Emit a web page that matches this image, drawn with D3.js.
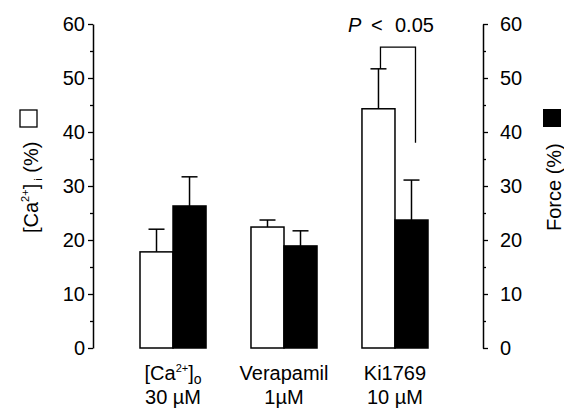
<!DOCTYPE html>
<html><head><meta charset="utf-8">
<script src="https://cdn.jsdelivr.net/npm/d3@7/dist/d3.min.js"></script>
<style>body{margin:0;background:#fff}svg{display:block}text{font-family:"Liberation Sans",Arial,Helvetica,sans-serif;fill:#000}</style>
</head><body><svg id="c" width="564" height="409"></svg>
<script>
const categories = ["Ca", "Verapamil", "Ki1769"];
const caValues = [17.8, 22.4, 44.3];
const caErrors = [4.2, 1.3, 7.4];
const forceValues = [26.3, 18.9, 23.7];
const forceErrors = [5.4, 2.8, 7.4];
const yTicks = [0, 10, 20, 30, 40, 50, 60];
const yMinor = [5, 15, 25, 35, 45, 55];
const sigParts = ["P", "<", "0.05"];
const bracketTop = 55.7;
const bracketRightEnd = 38;

const FS = "20px";
const svg = d3.select("#c");
const y = d3.scaleLinear().domain([0, 60]).range([348, 24]);
const x = d3.scaleBand().domain(categories).range([140, 428]).paddingInner(0.405).paddingOuter(0);
const sub = d3.scaleBand().domain(["ca", "force"]).range([0, x.bandwidth()]);

const leftX = 93, rightX = 483;

// left axis
const la = svg.append("g").attr("transform", `translate(${leftX},0)`)
  .call(d3.axisLeft(y).tickValues(yTicks).tickSize(5).tickPadding(3).tickSizeOuter(0));
la.append("g").call(d3.axisLeft(y).tickValues(yMinor).tickSize(3).tickFormat("").tickSizeOuter(0))
  .select(".domain").remove();
// right axis
const ra = svg.append("g").attr("transform", `translate(${rightX},0)`)
  .call(d3.axisRight(y).tickValues(yTicks).tickSize(5).tickPadding(12).tickSizeOuter(0));
ra.append("g").call(d3.axisRight(y).tickValues(yMinor).tickSize(3).tickFormat("").tickSizeOuter(0))
  .select(".domain").remove();
svg.selectAll(".domain").attr("stroke", "#000").attr("stroke-width", 1.5);
svg.selectAll(".tick line").attr("stroke", "#000").attr("stroke-width", 1.3);
svg.selectAll(".tick text").style("font-size", FS).attr("fill", "#000");

// bars
const data = categories.map((c, i) => ({c, ca: caValues[i], caE: caErrors[i], f: forceValues[i], fE: forceErrors[i]}));
const bw = sub.bandwidth();
const g = svg.append("g");
data.forEach(d => {
  const series = [
    {k: "ca", v: d.ca, e: d.caE, fill: "#fff"},
    {k: "force", v: d.f, e: d.fE, fill: "#000"}
  ];
  series.forEach(s => {
    const x0 = x(d.c) + sub(s.k);
    const cx = x0 + bw / 2;
    g.append("line").attr("x1", cx).attr("x2", cx).attr("y1", y(s.v)).attr("y2", y(s.v + s.e))
      .attr("stroke", "#000").attr("stroke-width", 1.5);
    g.append("line").attr("x1", cx - 8).attr("x2", cx + 8).attr("y1", y(s.v + s.e)).attr("y2", y(s.v + s.e))
      .attr("stroke", "#000").attr("stroke-width", 1.5);
    g.append("rect").attr("x", x0).attr("y", y(s.v)).attr("width", bw).attr("height", y(0) - y(s.v))
      .attr("fill", s.fill).attr("stroke", "#000").attr("stroke-width", 1.5);
  });
});

// significance bracket
const last = data[2];
const bx1 = x(last.c) + sub("ca") + bw / 2 + 2;
const bx2 = x(last.c) + sub("force") + bw / 2 + 4;
svg.append("path")
  .attr("d", `M${bx1},${y(last.ca + last.caE)}V${y(bracketTop)}H${bx2}V${y(bracketRightEnd)}`)
  .attr("fill", "none").attr("stroke", "#000").attr("stroke-width", 1.3);
const sig = svg.append("text").attr("y", 32).style("font-size", FS);
sig.append("tspan").attr("x", 348).style("font-style", "italic").text(sigParts[0]);
sig.append("tspan").attr("x", 371).text(sigParts[1]);
sig.append("tspan").attr("x", 395).text(sigParts[2]);

// category labels
const line1 = [
  t => { t.append("tspan").text("[Ca"); t.append("tspan").attr("dy", -8).style("font-size", "11px").text("2+");
         t.append("tspan").attr("dy", 8).text("]"); t.append("tspan").attr("dy", 4).style("font-size", "14px").text("o"); },
  t => t.text("Verapamil"),
  t => t.text("Ki1769")
];
const line2 = ["30 \u00b5M", "1\u00b5M", "10 \u00b5M"];
data.forEach((d, i) => {
  const cx = x(d.c) + x.bandwidth() / 2;
  const t1 = svg.append("text").attr("x", cx).attr("y", 380).attr("text-anchor", "middle").style("font-size", FS);
  line1[i](t1);
  svg.append("text").attr("x", cx).attr("y", 404).attr("text-anchor", "middle").style("font-size", FS).text(line2[i]);
});

// left axis title
const lt = svg.append("g").attr("transform", "translate(38,233) rotate(-90)");
const ltt = lt.append("text").attr("x", 0).attr("y", 0).style("font-size", FS);
ltt.append("tspan").text("[Ca");
ltt.append("tspan").attr("dy", -9).style("font-size", "11px").text("2+");
ltt.append("tspan").attr("dy", 9).text("]");
ltt.append("tspan").attr("dy", 4).style("font-size", "11px").text(" i");
ltt.append("tspan").attr("dy", -4).text(" (%)");
lt.append("rect").attr("x", 106).attr("y", -18).attr("width", 17).attr("height", 17)
  .attr("fill", "#fff").attr("stroke", "#000").attr("stroke-width", 1.3);

// right axis title
const rt = svg.append("g").attr("transform", "translate(561,231) rotate(-90)");
rt.append("text").attr("x", 0).attr("y", 0).style("font-size", FS).text("Force (%)");
rt.append("rect").attr("x", 104).attr("y", -18).attr("width", 18).attr("height", 18).attr("fill", "#000");
</script></body></html>
